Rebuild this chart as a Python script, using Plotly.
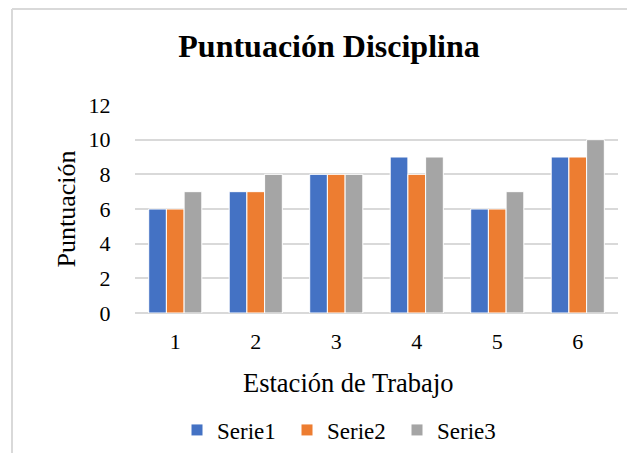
import plotly.graph_objects as go

# Datos
estaciones = ["1", "2", "3", "4", "5", "6"]
serie1 = [6, 7, 8, 9, 6, 9]
serie2 = [6, 7, 8, 8, 6, 9]
serie3 = [7, 8, 8, 9, 7, 10]

series = {"Serie1": serie1, "Serie2": serie2, "Serie3": serie3}
colors = {"Serie1": "#4472C4", "Serie2": "#ED7D31", "Serie3": "#A5A5A5"}

FONT = "Liberation Serif"
W, H = 635, 453
OFF = 8  # the page body adds an 8px margin around the figure
# plot area in page pixels: x 135..618, y 105..313
ML, MT = 135 - OFF, 105 - OFF
MR, MB = W - (618 - OFF), H - (313 - OFF)
pw = W - ML - MR
ph = H - MT - MB


def px_to_paper(x, y):
    # page pixel -> paper coords, used for the frame, legend and axis title
    return (x - OFF - ML) / pw, (H - MB - (y - OFF)) / ph


fig = go.Figure()
for name, vals in series.items():
    fig.add_trace(
        go.Bar(
            x=estaciones,
            y=vals,
            name=name,
            marker=dict(color=colors[name], line=dict(color="white", width=1)),
        )
    )

# marco del area del grafico (gris claro, como en Excel)
x0, y0 = px_to_paper(12, 9)
x1, y1 = px_to_paper(W + 20, H + 20)
fig.add_shape(type="line", xref="paper", yref="paper", x0=x0, y0=y0, x1=x0, y1=y1,
              line=dict(color="#D9D9D9", width=2))
fig.add_shape(type="line", xref="paper", yref="paper", x0=x0, y0=y0, x1=x1, y1=y0,
              line=dict(color="#D9D9D9", width=2))

# titulo del eje X: Excel lo centra en el area del grafico, no en el eje
tx, ty = px_to_paper(348, 383)
fig.add_annotation(
    text="Estación de Trabajo",
    xref="paper", yref="paper",
    x=tx, y=ty,
    xanchor="center", yanchor="middle",
    showarrow=False,
    font=dict(family=FONT, size=26.5, color="#000000"),
)

lx, ly = px_to_paper(177, 430)

fig.update_layout(
    width=W,
    height=H,
    margin=dict(l=ML, r=MR, t=MT, b=MB, autoexpand=False),
    paper_bgcolor="white",
    plot_bgcolor="white",
    font=dict(family=FONT, size=22, color="#000000"),
    barmode="group",
    bargap=0.34,
    bargroupgap=0,
    title=dict(
        text="<b>Puntuación Disciplina</b>",
        x=(329 - OFF) / W,
        xref="container",
        xanchor="center",
        y=(H - (46 - OFF)) / H,
        yanchor="middle",
        font=dict(family=FONT, size=32, color="#000000"),
        automargin=False,
    ),
    legend=dict(
        orientation="h",
        x=lx,
        xanchor="left",
        y=ly,
        yanchor="middle",
        font=dict(family=FONT, size=23, color="#000000"),
        itemwidth=30,
        entrywidth=65,
        entrywidthmode="pixels",
    ),
)
fig.update_xaxes(
    type="category",
    automargin=False,
    showgrid=False,
    ticks="outside",
    ticklen=9,
    tickcolor="rgba(0,0,0,0)",
    tickfont=dict(family=FONT, size=22, color="#000000"),
    showline=False,
)
fig.update_yaxes(
    range=[0, 12],
    dtick=2,
    automargin=False,
    showgrid=True,
    gridcolor="#D9D9D9",
    gridwidth=1.5,
    zeroline=True,
    zerolinecolor="#D9D9D9",
    zerolinewidth=1.5,
    ticks="outside",
    ticklen=19,
    tickcolor="rgba(0,0,0,0)",
    tickfont=dict(family=FONT, size=22, color="#000000"),
    title=dict(text="Puntuación", font=dict(family=FONT, size=26, color="#000000"), standoff=5),
)

fig.write_html("out.html")
